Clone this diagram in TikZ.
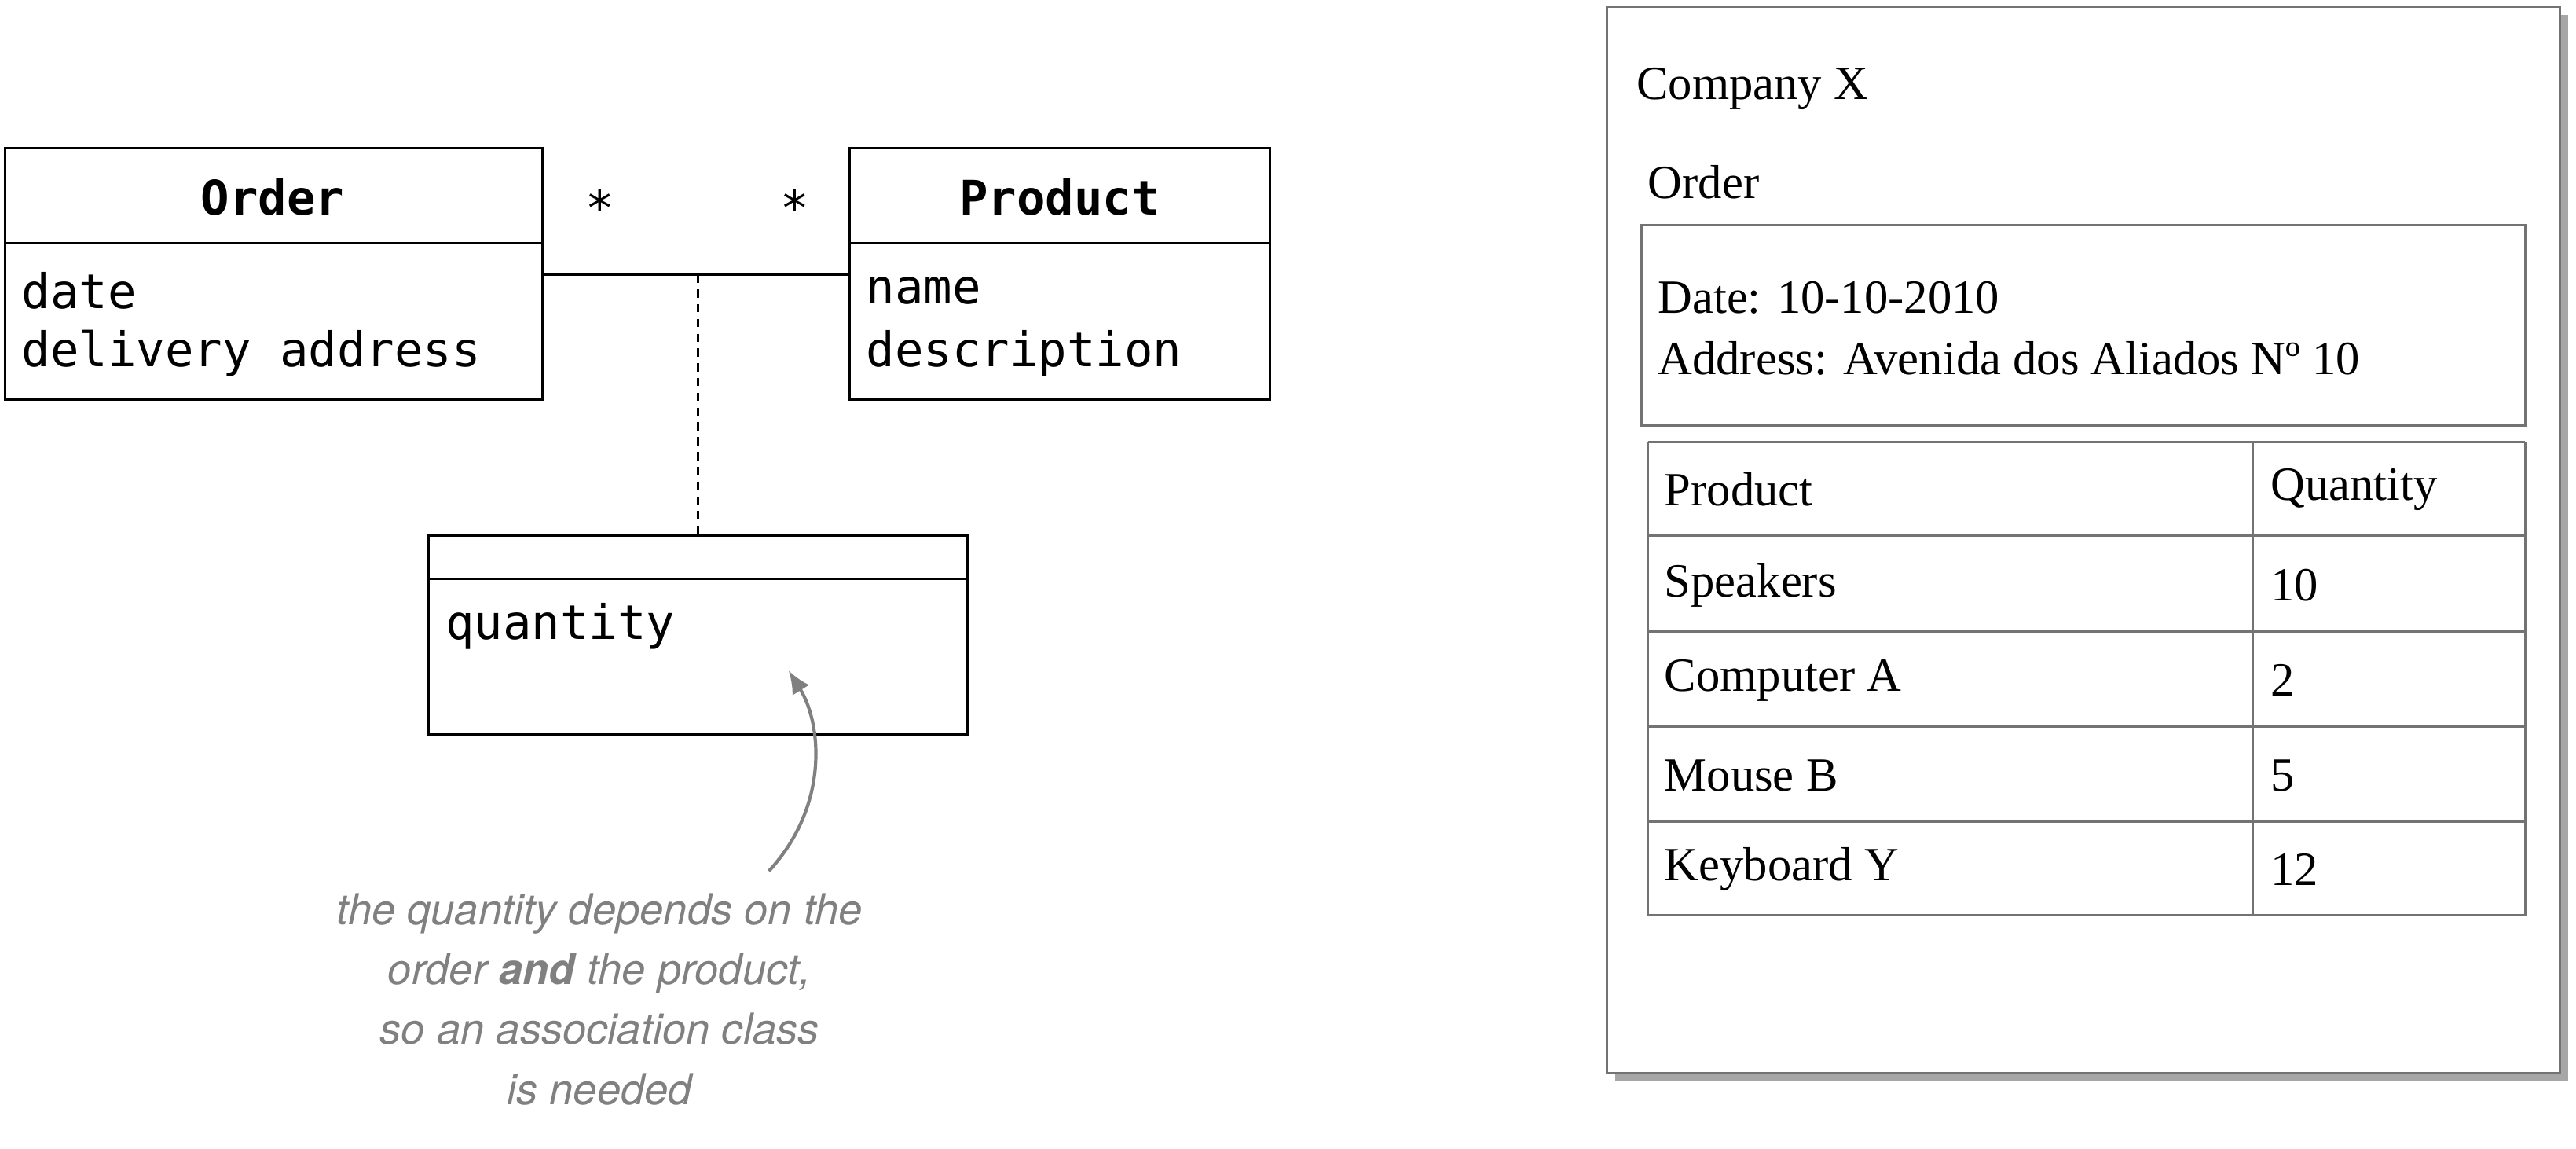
\documentclass[tikz,border=0pt]{standalone}
\usepackage{fontspec}
\usetikzlibrary{arrows.meta}
\setmainfont{Liberation Serif}
\newfontfamily\monof{DejaVu Sans Mono}
\newfontfamily\helv{TeX Gyre Heros}
\begin{document}
\begin{tikzpicture}[x=1pt,y=-1pt,
  uml/.style={draw,line width=1.5pt},
  mono/.style={font=\monof\fontsize{29}{35}\selectfont,anchor=west,inner sep=0},
  ser/.style={font=\fontsize{29}{34}\selectfont,anchor=west,inner sep=0},
  tbl/.style={draw=black!55,line width=1.5pt}]
\useasboundingbox (0,0) rectangle (1568,699);
% Order
\draw[uml] (3,90) rectangle (330,243); \draw[uml] (3,148) -- (330,148);
\node[font=\monof\bfseries\fontsize{29}{35}\selectfont] (ot) at (166,120) {Order};
\node[mono] (oa) at (13,177) {date};
\node[mono] (ob) at (13,215) {delivery address};
% Product
\draw[uml] (517,90) rectangle (773,243); \draw[uml] (517,148) -- (773,148);
\node[font=\monof\bfseries\fontsize{29}{35}\selectfont] (pt) at (645,120) {Product};
\node[mono] (pa) at (527,177) {name};
\node[mono] (pb) at (527,215) {description};
\coordinate (oe) at (330,167); \coordinate (pe) at (517,167); \coordinate (mid) at (425,167);
\draw[line width=1.5pt] (oe) -- (pe);
\node[font=\monof\fontsize{29}{35}\selectfont] (s1) at (365,126) {*};
\node[font=\monof\fontsize{29}{35}\selectfont] (s2) at (484,126) {*};
% assoc class
\draw[uml] (261,326) rectangle (589,447); \draw[uml] (261,352) -- (589,352);
\coordinate (at) at (425,326);
\draw[line width=1.5pt,dash pattern=on 5pt off 4pt] (mid) -- (at);
\node[mono] (q) at (271,381) {quantity};
\coordinate (a0) at (468,530); \coordinate (a1) at (480,408);
\draw[black!50,line width=2pt,-{Latex[length=14pt,width=12pt]}] (a0) .. controls (505,490) and (500,440) .. (a1);
\node[black!50,font=\helv\itshape\fontsize{26}{36.5}\selectfont,align=center,anchor=north] (note) at (365,540)
  {the quantity depends on the\\order \textbf{and} the product,\\so an association class\\is needed};
% right document
\fill[black!35] (983,9) rectangle (1563,658);
\draw[fill=white,draw=black!55,line width=1.5pt] (978,4) rectangle (1558,653);
\node[ser] (cx) at (996,54) {Company X};
\node[ser] (or) at (1003,111) {Order};
\draw[tbl] (999,137) rectangle (1537,259);
\node[ser] (d) at (1009,181) {Date: 10-10-2010};
\node[ser] (ad) at (1009,218) {Address: Avenida dos Aliados Nº 10};
\foreach \y in {269,326,384,442,500,557} \draw[tbl] (1003,\y) -- (1537,\y);
\draw[tbl] (1003,269) -- (1003,557); \draw[tbl] (1537,269) -- (1537,557); \draw[tbl] (1371,269) -- (1371,557);
\foreach \a/\b/\y in {Product/Quantity/298,Speakers/10/356,Computer A/2/414,Mouse B/5/472,Keyboard Y/12/529}{
  \node[ser] at (1013,\y) {\a}; \node[ser] at (1382,\y) {\b};}
\end{tikzpicture}
\end{document}
